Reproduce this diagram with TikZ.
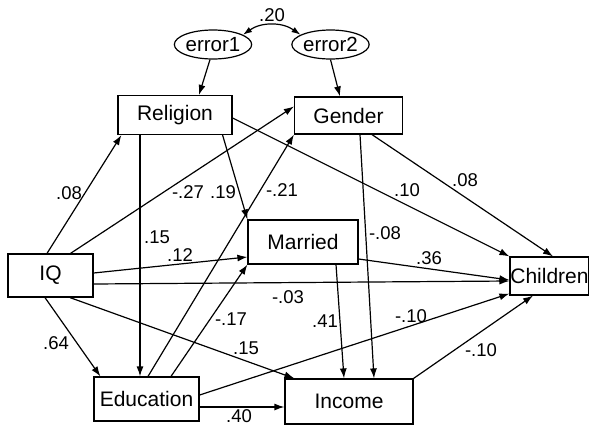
\documentclass[tikz,border=0pt]{standalone}
\usepackage{fontspec}
\setmainfont{Liberation Sans}
\usetikzlibrary{arrows.meta,shapes.geometric}
\begin{document}
\begin{tikzpicture}[x=1pt,y=-1pt]
    \tikzstyle{every node}+=[inner sep=0pt]
    \tikzstyle{var}=[draw,black,line width=1.2pt,font=\fontsize{21}{23}\selectfont]
    \tikzstyle{err}=[ellipse,draw,black,line width=1.2pt,font=\fontsize{20.5}{22}\selectfont]
    \tikzstyle{coef}=[font=\fontsize{18.5}{20}\selectfont]
    \tikzstyle{arr}=[black,line width=1.2pt,-{Latex[length=10pt,width=7pt]}]
    \useasboundingbox (0,0) rectangle (589,426);
    \node [err,minimum width=74pt,minimum height=29pt] (error1) at (213,44.5) {error1};
    \node [err,minimum width=75pt,minimum height=29pt] (error2) at (330.5,44.5) {error2};
    \node [var,minimum width=114pt,minimum height=39pt] (religion) at (175,115) {Religion};
    \node [var,minimum width=108pt,minimum height=37pt] (gender) at (348.5,115.5) {Gender};
    \node [var,minimum width=85pt,minimum height=43pt] (iq) at (50.5,275.5) {IQ};
    \node [var,minimum width=110pt,minimum height=44pt] (married) at (303,242) {Married};
    \node [var,minimum width=79pt,minimum height=38pt] (children) at (549.5,276) {Children};
    \node [var,minimum width=105pt,minimum height=44pt] (education) at (146.5,399) {Education};
    \node [var,minimum width=128pt,minimum height=45pt] (income) at (349,401.5) {Income};
    \draw [black,line width=1.2pt,{Latex[length=9pt,width=6pt]}-{Latex[length=9pt,width=6pt]}] (error1.18) to [bend left=35] (error2.162);
    \draw [arr] ([xshift=-3pt]error1.south) -- ([xshift=24pt]religion.north);
    \draw [arr] (error2.south) -- ([xshift=-8.5pt]gender.north);
    \draw [arr] ([xshift=-3.5pt]iq.north) -- ([xshift=4pt]religion.south west);
    \draw [arr] ([xshift=20pt]iq.north) -- ([yshift=9pt]gender.west);
    \draw [arr] ([yshift=2.5pt]iq.east) -- ([yshift=-15pt]married.west);
    \draw [arr] ([yshift=-8.5pt]iq.east) -- ([yshift=-5pt]children.west);
    \draw [arr] ([xshift=-5.5pt]iq.south) -- ([xshift=7pt]education.north west);
    \draw [arr] ([xshift=19.5pt]iq.south) -- ([xshift=10pt]income.north west);
    \draw [arr] ([xshift=-35pt]religion.south) -- ([xshift=-6.5pt]education.north);
    \draw [arr] ([xshift=-10pt]religion.south east) -- (married.north west);
    \draw [arr] ([yshift=-3pt]religion.east) -- (children.north west);
    \draw [arr] ([xshift=23.5pt]gender.south) -- ([xshift=3.5pt]children.north);
    \draw [arr] ([xshift=11.5pt]gender.south) -- ([xshift=25pt]income.north);
    \draw [arr] ([xshift=33pt]married.south) -- ([xshift=-5pt]income.north);
    \draw [arr] ([yshift=-17pt]married.east) -- ([yshift=-4pt]children.west);
    \draw [arr] ([xshift=1.5pt]education.north) -- (gender.south west);
    \draw [arr] ([xshift=24.5pt]education.north) -- (married.south west);
    \draw [arr] ([yshift=4pt]education.east) -- ([yshift=2pt]children.south west);
    \draw [arr] ([yshift=-8pt]education.east) -- ([yshift=-5.5pt]income.west);
    \draw [arr] (income.north east) -- ([xshift=-16.5pt]children.south);
    \node [coef] (c20) at (272,15) {.20};
    \node [coef] (c08a) at (69,193) {.08};
    \node [coef] (c27) at (188,192) {-.27};
    \node [coef] (c19) at (223,192) {.19};
    \node [coef] (c21) at (282,190) {-.21};
    \node [coef] (c10a) at (407,190) {.10};
    \node [coef] (c08b) at (465,180) {.08};
    \node [coef] (c15a) at (157,237) {.15};
    \node [coef] (c12) at (180,255) {.12};
    \node [coef] (c08c) at (385,233) {-.08};
    \node [coef] (c36) at (429,258) {.36};
    \node [coef] (c03) at (288,297) {-.03};
    \node [coef] (c41) at (325,321) {.41};
    \node [coef] (c17) at (231,319) {-.17};
    \node [coef] (c10b) at (411,316) {-.10};
    \node [coef] (c64) at (56,343) {.64};
    \node [coef] (c15b) at (246,348) {.15};
    \node [coef] (c10c) at (481,350) {-.10};
    \node [coef] (c40) at (239,416) {.40};
\end{tikzpicture}
\end{document}
